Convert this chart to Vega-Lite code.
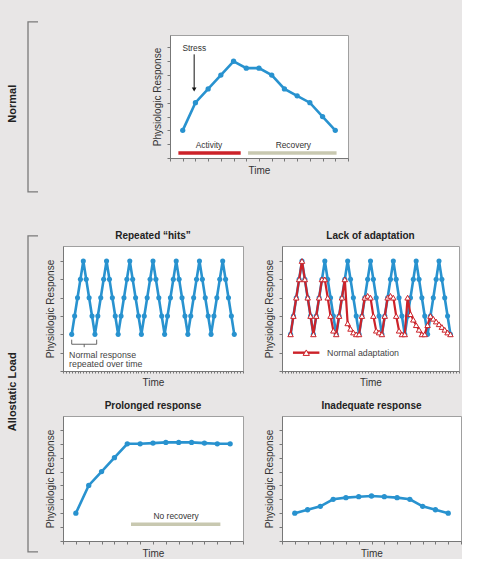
{
  "$schema": "https://vega.github.io/schema/vega-lite/v6.json",
  "background": "#e8e6e6",
  "padding": {"left": 0, "top": 18, "right": 0, "bottom": 0},
  "datasets": {
    "zigzag": [
      {"t":3,"r":2},{"t":4,"r":3},{"t":5,"r":4},{"t":6,"r":5},{"t":7,"r":6},{"t":8,"r":5},{"t":9,"r":4},{"t":10,"r":3},
      {"t":11,"r":2},{"t":12,"r":3},{"t":13,"r":4},{"t":14,"r":5},{"t":15,"r":6},{"t":16,"r":5},{"t":17,"r":4},{"t":18,"r":3},
      {"t":19,"r":2},{"t":20,"r":3},{"t":21,"r":4},{"t":22,"r":5},{"t":23,"r":6},{"t":24,"r":5},{"t":25,"r":4},{"t":26,"r":3},
      {"t":27,"r":2},{"t":28,"r":3},{"t":29,"r":4},{"t":30,"r":5},{"t":31,"r":6},{"t":32,"r":5},{"t":33,"r":4},{"t":34,"r":3},
      {"t":35,"r":2},{"t":36,"r":3},{"t":37,"r":4},{"t":38,"r":5},{"t":39,"r":6},{"t":40,"r":5},{"t":41,"r":4},{"t":42,"r":3},
      {"t":43,"r":2},{"t":44,"r":3},{"t":45,"r":4},{"t":46,"r":5},{"t":47,"r":6},{"t":48,"r":5},{"t":49,"r":4},{"t":50,"r":3},
      {"t":51,"r":2},{"t":52,"r":3},{"t":53,"r":4},{"t":54,"r":5},{"t":55,"r":6},{"t":56,"r":5},{"t":57,"r":4},{"t":58,"r":3},
      {"t":59,"r":2}
    ],
    "adapt": [
      {"t":3,"r":2},{"t":4,"r":3},{"t":5,"r":4},{"t":6,"r":5},{"t":7,"r":6},{"t":8,"r":5},{"t":9,"r":4},{"t":10,"r":3},{"t":11,"r":2},
      {"t":12,"r":3},{"t":13,"r":4},{"t":14,"r":5},{"t":15,"r":5},{"t":16,"r":4},{"t":17,"r":3},{"t":18,"r":2.2},{"t":19,"r":2},
      {"t":20,"r":3},{"t":21,"r":4},{"t":22,"r":5},{"t":23,"r":2.6},{"t":24,"r":2.3},{"t":25,"r":2.1},{"t":26,"r":2},{"t":27,"r":2},
      {"t":28,"r":3},{"t":29,"r":4},{"t":30,"r":4.1},{"t":31,"r":4},{"t":32,"r":3},{"t":33,"r":2.2},{"t":34,"r":2.1},{"t":35,"r":2},
      {"t":36,"r":3},{"t":37,"r":4},{"t":38,"r":4.1},{"t":39,"r":4},{"t":40,"r":3},{"t":41,"r":2.2},{"t":42,"r":2},{"t":43,"r":2},
      {"t":44,"r":4},{"t":45,"r":3.1},{"t":46,"r":2.8},{"t":47,"r":2.5},{"t":48,"r":2.25},{"t":49,"r":2},{"t":50,"r":2},
      {"t":51,"r":2.5},{"t":52,"r":3},{"t":53,"r":2.85},{"t":54,"r":2.7},{"t":55,"r":2.55},{"t":56,"r":2.4},{"t":57,"r":2.25},{"t":58,"r":2.1},{"t":59,"r":2}
    ]
  },
  "bounds": "flush",
  "spacing": 211,
  "vconcat": [
    {
      "bounds": "flush",
      "spacing": 129,
      "hconcat": [
        {
          "width": 40, "height": 123,
          "view": {"stroke": "transparent", "fill": "transparent"},
          "layer": [
            {
              "data": {"values": [{"o":1,"bx":0.925,"by":1.106},{"o":2,"bx":0.675,"by":1.106},{"o":3,"bx":0.675,"by":-0.276},{"o":4,"bx":0.925,"by":-0.276}]},
              "mark": {"type": "line", "color": "#7a7a7a", "strokeWidth": 1.3},
              "encoding": {
                "x": {"field": "bx", "type": "quantitative", "scale": {"domain": [0, 1], "nice": false}, "axis": null},
                "y": {"field": "by", "type": "quantitative", "scale": {"domain": [0, 1], "nice": false}, "axis": null},
                "order": {"field": "o", "type": "quantitative"}
              }
            },
            {
              "data": {"values": [{"bx":0.29,"by":0.441,"label":"Normal"}]},
              "mark": {"type": "text", "angle": 270, "fontWeight": "bold", "fontSize": 11, "color": "#222", "baseline": "middle", "align": "center"},
              "encoding": {
                "x": {"field": "bx", "type": "quantitative"},
                "y": {"field": "by", "type": "quantitative"},
                "text": {"field": "label"}
              }
            }
          ]
        },
        {
          "width": 178, "height": 123,
          "layer": [
            {
              "data": {"values": [{"t":1,"r":2},{"t":2,"r":4},{"t":3,"r":5},{"t":4,"r":6},{"t":5,"r":7},{"t":6,"r":6.5},{"t":7,"r":6.5},{"t":8,"r":6},{"t":9,"r":5},{"t":10,"r":4.5},{"t":11,"r":4},{"t":12,"r":3},{"t":13,"r":2}]},
              "encoding": {
                "x": {"field": "t", "type": "quantitative", "scale": {"domain": [0, 14], "nice": false}, "axis": {"title": "Time", "values": [0,1,2,3,4,5,6,7,8,9,10,11,12,13,14], "tickCount": 100}},
                "y": {"field": "r", "type": "quantitative", "scale": {"domain": [0, 8.9], "nice": false}, "axis": {"title": "Physiologic Response", "values": [0,1,2,3,4,5,6,7,8], "tickCount": 100}}
              },
              "layer": [
                {"mark": {"type": "line", "color": "#2892cf", "strokeWidth": 2.6}},
                {"mark": {"type": "point", "filled": true, "color": "#2892cf", "size": 28, "opacity": 1}}
              ]
            },
            {
              "data": {"values": [{"k":"Activity","t":0.66,"t2":5.56,"r":0.36},{"k":"Recovery","t":6.14,"t2":13.1,"r":0.36}]},
              "mark": {"type": "rule", "strokeWidth": 3.5},
              "encoding": {
                "x": {"field": "t", "type": "quantitative"},
                "x2": {"field": "t2"},
                "y": {"field": "r", "type": "quantitative"},
                "color": {"field": "k", "type": "nominal", "scale": {"domain": ["Activity", "Recovery"], "range": ["#cc2229", "#c8c8b0"]}, "legend": null}
              }
            },
            {
              "data": {"values": [{"k":"Activity","t":3.07,"r":0.94},{"k":"Recovery","t":9.7,"r":0.94},{"k":"Stress","t":1.91,"r":7.95}]},
              "mark": {"type": "text", "fontSize": 8.4, "color": "#333", "baseline": "middle"},
              "encoding": {
                "x": {"field": "t", "type": "quantitative"},
                "y": {"field": "r", "type": "quantitative"},
                "text": {"field": "k"}
              }
            },
            {
              "data": {"values": [{"t":1.9,"r":7.5,"r2":5.0}]},
              "mark": {"type": "rule", "color": "#111", "strokeWidth": 1},
              "encoding": {
                "x": {"field": "t", "type": "quantitative"},
                "y": {"field": "r", "type": "quantitative"},
                "y2": {"field": "r2"}
              }
            },
            {
              "data": {"values": [{"t":1.9,"r":4.95}]},
              "mark": {"type": "point", "shape": "triangle-down", "filled": true, "color": "#111", "size": 22, "opacity": 1},
              "encoding": {
                "x": {"field": "t", "type": "quantitative"},
                "y": {"field": "r", "type": "quantitative"}
              }
            }
          ]
        }
      ]
    },
    {
      "bounds": "flush",
      "spacing": 22,
      "hconcat": [
        {
          "width": 40, "height": 295,
          "view": {"stroke": "transparent", "fill": "transparent"},
          "layer": [
            {
              "data": {"values": [{"o":1,"bx":0.925,"by":1.034},{"o":2,"bx":0.675,"by":1.034},{"o":3,"bx":0.675,"by":-0.037},{"o":4,"bx":0.925,"by":-0.037}]},
              "mark": {"type": "line", "color": "#7a7a7a", "strokeWidth": 1.3},
              "encoding": {
                "x": {"field": "bx", "type": "quantitative", "scale": {"domain": [0, 1], "nice": false}, "axis": null},
                "y": {"field": "by", "type": "quantitative", "scale": {"domain": [0, 1], "nice": false}, "axis": null},
                "order": {"field": "o", "type": "quantitative"}
              }
            },
            {
              "data": {"values": [{"bx":0.29,"by":0.506,"label":"Allostatic Load"}]},
              "mark": {"type": "text", "angle": 270, "fontWeight": "bold", "fontSize": 11, "color": "#222", "baseline": "middle", "align": "center"},
              "encoding": {
                "x": {"field": "bx", "type": "quantitative"},
                "y": {"field": "by", "type": "quantitative"},
                "text": {"field": "label"}
              }
            }
          ]
        },
        {
          "bounds": "flush",
          "spacing": 170,
          "vconcat": [
            {
              "bounds": "flush",
              "spacing": 39,
              "hconcat": [
                {
                  "title": "Repeated “hits”",
                  "width": 180, "height": 125,
                  "layer": [
                    {
                      "data": {"name": "zigzag"},
                      "encoding": {
                        "x": {"field": "t", "type": "quantitative", "scale": {"domain": [0, 62], "nice": false}, "axis": {"title": "Time", "tickCount": 62, "tickSize": 2}},
                        "y": {"field": "r", "type": "quantitative", "scale": {"domain": [0, 6.82], "nice": false}, "axis": {"title": "Physiologic Response", "values": [0,1,2,3,4,5,6], "tickCount": 100}}
                      },
                      "layer": [
                        {"mark": {"type": "line", "color": "#2892cf", "strokeWidth": 2.6}},
                        {"mark": {"type": "point", "filled": true, "color": "#2892cf", "size": 26, "opacity": 1}}
                      ]
                    },
                    {
                      "data": {"values": [{"o":1,"t":3,"r":1.71},{"o":2,"t":3,"r":1.46},{"o":3,"t":11.6,"r":1.46},{"o":4,"t":11.6,"r":1.71}]},
                      "mark": {"type": "line", "color": "#555", "strokeWidth": 0.9},
                      "encoding": {
                        "x": {"field": "t", "type": "quantitative"},
                        "y": {"field": "r", "type": "quantitative"},
                        "order": {"field": "o", "type": "quantitative"}
                      }
                    },
                    {
                      "data": {"values": [{"t":7.3,"r":1.46,"r2":1.3}]},
                      "mark": {"type": "rule", "color": "#555", "strokeWidth": 0.9},
                      "encoding": {
                        "x": {"field": "t", "type": "quantitative"},
                        "y": {"field": "r", "type": "quantitative"},
                        "y2": {"field": "r2"}
                      }
                    },
                    {
                      "data": {"values": [{"k":"Normal response","t":2.1,"r":0.89},{"k":"repeated over time","t":2.1,"r":0.37}]},
                      "mark": {"type": "text", "fontSize": 8.8, "color": "#444", "align": "left", "baseline": "middle"},
                      "encoding": {
                        "x": {"field": "t", "type": "quantitative"},
                        "y": {"field": "r", "type": "quantitative"},
                        "text": {"field": "k"}
                      }
                    }
                  ]
                },
                {
                  "title": "Lack of adaptation",
                  "width": 177, "height": 125,
                  "layer": [
                    {
                      "data": {"name": "zigzag"},
                      "encoding": {
                        "x": {"field": "t", "type": "quantitative", "scale": {"domain": [0, 62], "nice": false}, "axis": {"title": "Time", "tickCount": 62, "tickSize": 2}},
                        "y": {"field": "r", "type": "quantitative", "scale": {"domain": [0, 6.82], "nice": false}, "axis": {"title": "Physiologic Response", "values": [0,1,2,3,4,5,6], "tickCount": 100}}
                      },
                      "layer": [
                        {"mark": {"type": "line", "color": "#2892cf", "strokeWidth": 2.6}},
                        {"mark": {"type": "point", "filled": true, "color": "#2892cf", "size": 26, "opacity": 1}}
                      ]
                    },
                    {
                      "data": {"name": "adapt"},
                      "encoding": {
                        "x": {"field": "t", "type": "quantitative"},
                        "y": {"field": "r", "type": "quantitative"}
                      },
                      "layer": [
                        {"mark": {"type": "line", "color": "#cc2229", "strokeWidth": 2.2}},
                        {"mark": {"type": "point", "shape": "triangle-up", "filled": true, "fill": "white", "stroke": "#cc2229", "strokeWidth": 1, "size": 30, "opacity": 1}}
                      ]
                    },
                    {
                      "data": {"values": [{"t":3.84,"r":1},{"t":13.1,"r":1}]},
                      "mark": {"type": "line", "color": "#cc2229", "strokeWidth": 2.4},
                      "encoding": {
                        "x": {"field": "t", "type": "quantitative"},
                        "y": {"field": "r", "type": "quantitative"}
                      }
                    },
                    {
                      "data": {"values": [{"t":8.5,"r":1}]},
                      "mark": {"type": "point", "shape": "triangle-up", "filled": true, "fill": "white", "stroke": "#cc2229", "strokeWidth": 1, "size": 40, "opacity": 1},
                      "encoding": {
                        "x": {"field": "t", "type": "quantitative"},
                        "y": {"field": "r", "type": "quantitative"}
                      }
                    },
                    {
                      "data": {"values": [{"k":"Normal adaptation","t":15.8,"r":1}]},
                      "mark": {"type": "text", "fontSize": 8.8, "color": "#444", "align": "left", "baseline": "middle"},
                      "encoding": {
                        "x": {"field": "t", "type": "quantitative"},
                        "y": {"field": "r", "type": "quantitative"},
                        "text": {"field": "k"}
                      }
                    }
                  ]
                }
              ]
            },
            {
              "bounds": "flush",
              "spacing": 39,
              "hconcat": [
                {
                  "title": "Prolonged response",
                  "width": 180, "height": 125,
                  "layer": [
                    {
                      "data": {"values": [{"t":1,"r":2},{"t":2,"r":4},{"t":3,"r":5},{"t":4,"r":6},{"t":5,"r":7},{"t":6,"r":7},{"t":7,"r":7.05},{"t":8,"r":7.1},{"t":9,"r":7.1},{"t":10,"r":7.1},{"t":11,"r":7.05},{"t":12,"r":7},{"t":13,"r":7}]},
                      "encoding": {
                        "x": {"field": "t", "type": "quantitative", "scale": {"domain": [0, 14], "nice": false}, "axis": {"title": "Time", "values": [0,1,2,3,4,5,6,7,8,9,10,11,12,13,14], "tickCount": 100}},
                        "y": {"field": "r", "type": "quantitative", "scale": {"domain": [0, 9], "nice": false}, "axis": {"title": "Physiologic Response", "values": [0,1,2,3,4,5,6,7,8], "tickCount": 100}}
                      },
                      "layer": [
                        {"mark": {"type": "line", "color": "#2892cf", "strokeWidth": 2.6}},
                        {"mark": {"type": "point", "filled": true, "color": "#2892cf", "size": 28, "opacity": 1}}
                      ]
                    },
                    {
                      "data": {"values": [{"t":5.29,"t2":12.24,"r":1.2}]},
                      "mark": {"type": "rule", "strokeWidth": 3.5, "color": "#c8c8b0"},
                      "encoding": {
                        "x": {"field": "t", "type": "quantitative"},
                        "x2": {"field": "t2"},
                        "y": {"field": "r", "type": "quantitative"}
                      }
                    },
                    {
                      "data": {"values": [{"k":"No recovery","t":8.8,"r":1.8}]},
                      "mark": {"type": "text", "fontSize": 8.4, "color": "#333", "baseline": "middle"},
                      "encoding": {
                        "x": {"field": "t", "type": "quantitative"},
                        "y": {"field": "r", "type": "quantitative"},
                        "text": {"field": "k"}
                      }
                    }
                  ]
                },
                {
                  "title": "Inadequate response",
                  "width": 179, "height": 125,
                  "layer": [
                    {
                      "data": {"values": [{"t":1,"r":2},{"t":2,"r":2.25},{"t":3,"r":2.5},{"t":4,"r":3},{"t":5,"r":3.12},{"t":6,"r":3.19},{"t":7,"r":3.24},{"t":8,"r":3.19},{"t":9,"r":3.12},{"t":10,"r":3},{"t":11,"r":2.5},{"t":12,"r":2.25},{"t":13,"r":2}]},
                      "encoding": {
                        "x": {"field": "t", "type": "quantitative", "scale": {"domain": [0, 14], "nice": false}, "axis": {"title": "Time", "values": [0,1,2,3,4,5,6,7,8,9,10,11,12,13,14], "tickCount": 100}},
                        "y": {"field": "r", "type": "quantitative", "scale": {"domain": [0, 9], "nice": false}, "axis": {"title": "Physiologic Response", "values": [0,1,2,3,4,5,6,7,8], "tickCount": 100}}
                      },
                      "layer": [
                        {"mark": {"type": "line", "color": "#2892cf", "strokeWidth": 2.6}},
                        {"mark": {"type": "point", "filled": true, "color": "#2892cf", "size": 28, "opacity": 1}}
                      ]
                    }
                  ]
                }
              ]
            }
          ]
        }
      ]
    }
  ],
  "config": {
    "font": "Liberation Sans",
    "view": {"fill": "white", "stroke": "#a0a0a0", "strokeWidth": 1},
    "axis": {
      "labels": false,
      "grid": false,
      "tickSize": 3,
      "tickColor": "#777",
      "domainColor": "#777",
      "titleFont": "Liberation Sans",
      "titleFontSize": 10,
      "titleFontWeight": "normal",
      "titleColor": "#333",
      "titlePadding": 4
    },
    "title": {"font": "Liberation Sans", "fontSize": 10, "fontWeight": "bold", "color": "#222", "offset": 5},
    "text": {"font": "Liberation Sans"}
  }
}
